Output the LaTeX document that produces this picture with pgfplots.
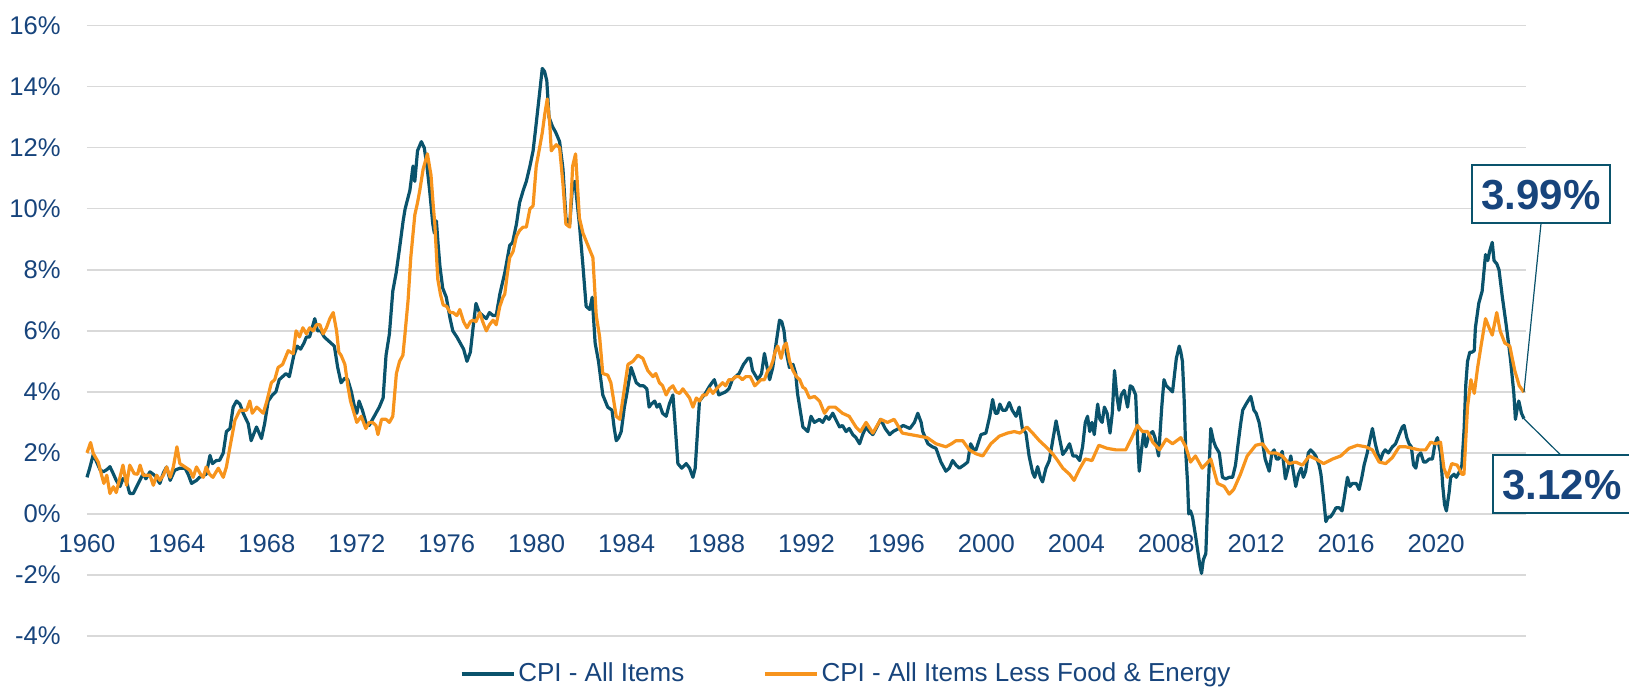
\documentclass[border=0pt]{standalone}
\usepackage{pgfplots}
\pgfplotsset{compat=1.18}
\usepackage{pgfplotstable}
\usepackage{fontspec}
\setmainfont{Liberation Sans}
\definecolor{txtblue}{RGB}{23,68,124}
\definecolor{cpiteal}{RGB}{10,83,108}
\definecolor{coreorange}{RGB}{247,148,29}
\definecolor{gridgray}{RGB}{217,217,217}

\pgfplotstableread{
x y
1960.00 1.2
1960.12 1.5
1960.28 1.95
1960.43 1.7
1960.58 1.45
1960.72 1.38
1960.88 1.45
1961.02 1.55
1961.15 1.35
1961.30 1.1
1961.47 0.9
1961.60 1.16
1961.76 1.05
1961.90 0.67
1962.06 0.67
1962.28 1.0
1962.50 1.32
1962.62 1.15
1962.80 1.38
1963.00 1.27
1963.24 1.0
1963.40 1.35
1963.54 1.54
1963.70 1.1
1963.90 1.43
1964.13 1.5
1964.36 1.5
1964.50 1.3
1964.65 1.0
1964.87 1.1
1965.00 1.2
1965.30 1.3
1965.47 1.92
1965.58 1.65
1965.75 1.75
1965.90 1.76
1966.06 2.0
1966.20 2.7
1966.36 2.8
1966.50 3.5
1966.65 3.7
1966.80 3.6
1966.95 3.3
1967.17 2.96
1967.30 2.4
1967.54 2.85
1967.76 2.47
1967.90 2.96
1968.06 3.7
1968.25 3.9
1968.40 4.0
1968.55 4.4
1968.70 4.5
1968.85 4.6
1969.00 4.5
1969.20 5.2
1969.35 5.5
1969.50 5.4
1969.65 5.6
1969.76 5.8
1969.90 5.8
1970.13 6.4
1970.25 6.0
1970.40 6.0
1970.55 5.8
1970.70 5.7
1970.85 5.6
1971.00 5.5
1971.15 4.8
1971.30 4.3
1971.47 4.45
1971.60 4.4
1971.76 4.0
1971.90 3.5
1972.00 3.3
1972.10 3.7
1972.25 3.4
1972.40 3.0
1972.55 2.9
1972.70 3.1
1972.85 3.3
1973.00 3.5
1973.17 3.8
1973.30 5.2
1973.45 5.9
1973.60 7.3
1973.75 7.9
1973.90 8.7
1974.06 9.6
1974.15 10.0
1974.36 10.6
1974.50 11.4
1974.58 10.9
1974.70 11.9
1974.87 12.2
1975.00 12.0
1975.12 11.4
1975.24 10.6
1975.38 9.5
1975.45 9.2
1975.54 9.6
1975.62 8.8
1975.70 8.1
1975.82 7.4
1975.98 7.1
1976.15 6.4
1976.27 6.0
1976.45 5.8
1976.60 5.6
1976.75 5.4
1976.90 5.0
1977.05 5.3
1977.17 6.1
1977.30 6.9
1977.45 6.6
1977.60 6.5
1977.76 6.4
1977.90 6.6
1978.06 6.5
1978.20 6.5
1978.36 7.2
1978.58 7.9
1978.80 8.8
1978.93 8.9
1979.10 9.5
1979.24 10.2
1979.40 10.6
1979.54 10.9
1979.70 11.4
1979.84 11.9
1979.95 12.6
1980.13 13.8
1980.25 14.6
1980.35 14.5
1980.45 14.2
1980.55 13.0
1980.70 12.7
1980.85 12.5
1981.02 12.2
1981.17 11.3
1981.30 9.7
1981.47 9.5
1981.60 10.8
1981.70 10.9
1981.90 9.5
1982.05 8.2
1982.20 6.8
1982.36 6.7
1982.47 7.1
1982.60 5.6
1982.75 5.0
1982.94 3.9
1983.16 3.5
1983.35 3.4
1983.45 2.8
1983.54 2.4
1983.65 2.5
1983.76 2.7
1983.90 3.5
1984.00 3.9
1984.20 4.8
1984.43 4.3
1984.60 4.2
1984.75 4.2
1984.90 4.1
1985.00 3.5
1985.10 3.6
1985.25 3.7
1985.35 3.5
1985.46 3.6
1985.60 3.3
1985.76 3.2
1985.90 3.6
1986.06 3.9
1986.15 3.0
1986.28 1.65
1986.45 1.5
1986.65 1.65
1986.80 1.5
1986.95 1.2
1987.05 1.5
1987.24 3.7
1987.50 3.95
1987.70 4.2
1987.90 4.4
1988.10 3.9
1988.40 4.0
1988.55 4.1
1988.70 4.4
1989.00 4.6
1989.20 4.9
1989.40 5.1
1989.50 5.1
1989.60 4.7
1989.84 4.4
1990.00 4.6
1990.13 5.26
1990.25 4.8
1990.36 4.4
1990.50 4.8
1990.65 5.6
1990.80 6.35
1990.90 6.3
1991.00 6.0
1991.10 5.3
1991.24 4.8
1991.40 4.9
1991.52 4.6
1991.60 3.95
1991.72 3.4
1991.84 2.85
1992.06 2.7
1992.20 3.2
1992.35 3.0
1992.58 3.1
1992.72 3.0
1992.87 3.2
1993.00 3.1
1993.17 3.3
1993.30 3.1
1993.47 2.85
1993.60 2.9
1993.76 2.7
1993.90 2.8
1994.06 2.6
1994.20 2.5
1994.36 2.3
1994.50 2.6
1994.65 2.85
1994.80 2.7
1994.95 2.6
1995.10 2.8
1995.30 3.1
1995.50 2.8
1995.70 2.6
1995.85 2.7
1996.10 2.8
1996.30 2.9
1996.60 2.8
1996.80 3.0
1996.95 3.3
1997.10 3.0
1997.17 2.7
1997.40 2.3
1997.60 2.2
1997.76 2.15
1997.98 1.7
1998.20 1.4
1998.35 1.5
1998.50 1.75
1998.65 1.6
1998.80 1.5
1999.00 1.6
1999.17 1.7
1999.30 2.3
1999.45 2.1
1999.54 2.1
1999.76 2.6
1999.98 2.65
2000.15 3.2
2000.28 3.75
2000.40 3.3
2000.50 3.3
2000.60 3.6
2000.72 3.4
2000.87 3.4
2001.02 3.65
2001.15 3.4
2001.32 3.2
2001.46 3.5
2001.60 2.8
2001.76 2.65
2001.90 1.9
2002.06 1.35
2002.15 1.2
2002.28 1.55
2002.40 1.2
2002.50 1.05
2002.65 1.5
2002.80 1.75
2002.95 2.4
2003.10 3.05
2003.25 2.5
2003.40 1.95
2003.55 2.1
2003.70 2.3
2003.85 1.9
2004.00 1.9
2004.15 1.75
2004.28 2.2
2004.40 3.0
2004.50 3.2
2004.60 2.7
2004.70 3.0
2004.80 2.6
2004.95 3.6
2005.05 3.1
2005.15 3.0
2005.25 3.5
2005.37 3.3
2005.50 2.65
2005.60 3.3
2005.70 4.7
2005.80 3.9
2005.90 3.4
2006.00 3.9
2006.13 4.05
2006.28 3.5
2006.40 4.2
2006.50 4.15
2006.64 3.9
2006.72 2.5
2006.80 1.4
2006.90 2.1
2007.00 2.7
2007.10 2.2
2007.24 2.6
2007.40 2.7
2007.50 2.5
2007.66 1.9
2007.80 3.5
2007.90 4.4
2008.00 4.2
2008.15 4.1
2008.28 4.0
2008.45 5.1
2008.58 5.5
2008.65 5.3
2008.72 5.0
2008.80 3.7
2008.87 2.0
2008.95 1.0
2009.00 0.0
2009.08 0.1
2009.17 -0.1
2009.30 -0.7
2009.42 -1.3
2009.50 -1.7
2009.57 -1.95
2009.65 -1.5
2009.76 -1.3
2009.85 0.5
2009.98 2.8
2010.10 2.4
2010.20 2.2
2010.36 2.0
2010.50 1.2
2010.65 1.15
2010.80 1.2
2010.95 1.2
2011.08 1.6
2011.18 2.2
2011.30 2.9
2011.40 3.4
2011.55 3.6
2011.76 3.85
2011.90 3.4
2012.00 3.3
2012.13 3.0
2012.25 2.5
2012.40 1.8
2012.58 1.4
2012.70 2.0
2012.80 2.1
2012.90 1.8
2013.00 1.8
2013.16 2.05
2013.30 1.15
2013.42 1.5
2013.54 1.9
2013.65 1.4
2013.76 0.9
2013.88 1.3
2014.00 1.5
2014.10 1.2
2014.20 1.4
2014.32 2.0
2014.42 2.1
2014.55 2.0
2014.65 1.9
2014.80 1.6
2014.88 1.3
2015.00 0.5
2015.10 -0.25
2015.20 -0.1
2015.30 -0.1
2015.40 0.0
2015.55 0.2
2015.70 0.2
2015.82 0.1
2015.90 0.45
2016.06 1.2
2016.17 0.9
2016.28 1.0
2016.45 1.0
2016.58 0.8
2016.70 1.2
2016.80 1.6
2016.94 2.0
2017.08 2.5
2017.17 2.8
2017.30 2.3
2017.40 2.0
2017.52 1.75
2017.64 2.0
2017.74 2.1
2017.88 2.0
2018.06 2.2
2018.20 2.3
2018.36 2.6
2018.50 2.85
2018.58 2.9
2018.70 2.5
2018.80 2.3
2018.90 2.2
2019.00 1.6
2019.10 1.5
2019.20 1.9
2019.32 2.0
2019.45 1.7
2019.54 1.7
2019.70 1.8
2019.84 1.8
2019.95 2.3
2020.06 2.5
2020.20 2.0
2020.30 0.9
2020.38 0.3
2020.46 0.1
2020.58 0.7
2020.65 1.2
2020.80 1.3
2020.90 1.2
2021.05 1.4
2021.15 1.6
2021.25 2.8
2021.32 4.2
2021.40 5.0
2021.50 5.3
2021.60 5.3
2021.70 5.35
2021.75 6.1
2021.90 6.9
2022.05 7.3
2022.20 8.5
2022.30 8.3
2022.38 8.6
2022.50 8.9
2022.58 8.3
2022.70 8.2
2022.80 8.0
2022.95 7.1
2023.10 6.3
2023.24 5.5
2023.32 5.0
2023.46 3.95
2023.53 3.1
2023.62 3.5
2023.68 3.7
2023.80 3.3
2023.91 3.12
}\cpidata

\pgfplotstableread{
x y
1960.00 2.0
1960.16 2.34
1960.28 1.98
1960.50 1.7
1960.65 1.27
1960.75 1.0
1960.88 1.27
1961.02 0.67
1961.17 0.89
1961.30 0.7
1961.40 1.0
1961.60 1.6
1961.76 0.94
1961.90 1.6
1962.10 1.32
1962.25 1.3
1962.36 1.6
1962.50 1.27
1962.80 1.27
1962.95 0.94
1963.10 1.27
1963.24 1.1
1963.40 1.27
1963.54 1.54
1963.70 1.2
1963.84 1.54
1964.00 2.2
1964.13 1.65
1964.36 1.54
1964.58 1.43
1964.72 1.2
1964.87 1.54
1965.05 1.3
1965.17 1.2
1965.30 1.54
1965.45 1.3
1965.60 1.2
1965.84 1.5
1966.06 1.2
1966.20 1.54
1966.36 2.2
1966.58 3.07
1966.80 3.4
1967.10 3.4
1967.24 3.7
1967.35 3.3
1967.55 3.5
1967.70 3.4
1967.84 3.3
1968.00 3.7
1968.20 4.3
1968.35 4.4
1968.50 4.8
1968.70 4.9
1968.95 5.35
1969.17 5.25
1969.30 6.0
1969.45 5.8
1969.60 6.1
1969.76 5.9
1969.90 6.1
1970.06 6.0
1970.20 6.2
1970.36 6.2
1970.50 5.9
1970.65 6.1
1970.80 6.4
1970.95 6.6
1971.10 6.0
1971.20 5.3
1971.30 5.2
1971.47 4.9
1971.60 4.2
1971.72 3.7
1971.84 3.4
1972.00 3.0
1972.20 3.2
1972.40 2.8
1972.55 3.0
1972.70 3.0
1972.85 2.9
1972.94 2.6
1973.10 3.1
1973.30 3.1
1973.45 3.0
1973.60 3.2
1973.76 4.6
1973.90 5.0
1974.05 5.2
1974.13 5.8
1974.28 7.0
1974.40 8.4
1974.58 9.8
1974.70 10.2
1974.80 10.6
1974.95 11.3
1975.14 11.8
1975.30 11.1
1975.40 10.1
1975.47 9.5
1975.60 7.7
1975.72 7.2
1975.84 6.85
1976.00 6.8
1976.15 6.6
1976.28 6.6
1976.45 6.5
1976.58 6.7
1976.75 6.3
1976.90 6.1
1977.05 6.3
1977.17 6.35
1977.30 6.3
1977.47 6.6
1977.60 6.3
1977.76 6.0
1977.90 6.2
1978.06 6.35
1978.20 6.2
1978.36 6.8
1978.50 7.1
1978.58 7.2
1978.70 7.9
1978.80 8.4
1978.95 8.6
1979.10 9.1
1979.25 9.3
1979.40 9.4
1979.54 9.4
1979.70 10.0
1979.84 10.1
1979.98 11.4
1980.13 12.0
1980.25 12.5
1980.36 13.1
1980.47 13.6
1980.58 12.8
1980.65 11.9
1980.75 12.0
1980.87 12.1
1981.02 12.0
1981.17 10.8
1981.30 9.5
1981.47 9.4
1981.60 11.4
1981.73 11.8
1981.90 9.7
1982.06 9.2
1982.28 8.8
1982.50 8.4
1982.65 6.5
1982.80 5.8
1982.94 4.6
1983.16 4.55
1983.30 4.3
1983.45 3.6
1983.54 3.2
1983.70 3.1
1983.84 3.8
1984.06 4.9
1984.28 5.0
1984.50 5.2
1984.72 5.1
1984.94 4.7
1985.17 4.5
1985.30 4.6
1985.46 4.3
1985.60 4.2
1985.76 3.9
1985.90 4.1
1986.06 4.2
1986.20 4.0
1986.36 3.95
1986.50 4.1
1986.65 3.95
1986.80 3.8
1986.95 3.5
1987.10 3.8
1987.24 3.7
1987.40 3.9
1987.54 3.9
1987.70 4.1
1987.84 3.95
1988.00 4.1
1988.13 4.2
1988.27 4.3
1988.40 4.2
1988.55 4.4
1988.70 4.4
1988.85 4.5
1989.00 4.5
1989.15 4.4
1989.30 4.5
1989.50 4.5
1989.70 4.2
1989.84 4.3
1989.98 4.4
1990.13 4.4
1990.28 4.7
1990.40 4.8
1990.50 5.0
1990.60 5.3
1990.72 5.5
1990.87 5.1
1991.00 5.5
1991.10 5.6
1991.25 5.0
1991.40 4.7
1991.55 4.5
1991.70 4.4
1991.84 4.15
1991.95 4.1
1992.13 3.8
1992.36 3.85
1992.58 3.7
1992.80 3.3
1993.00 3.5
1993.28 3.5
1993.60 3.3
1993.90 3.2
1994.20 2.85
1994.40 2.7
1994.65 3.0
1994.95 2.65
1995.30 3.1
1995.60 3.0
1995.90 3.1
1996.26 2.65
1996.63 2.6
1997.00 2.55
1997.37 2.5
1997.76 2.3
1998.20 2.2
1998.45 2.3
1998.65 2.4
1998.95 2.4
1999.24 2.1
1999.54 1.97
1999.84 1.9
2000.20 2.3
2000.58 2.55
2000.94 2.65
2001.24 2.7
2001.50 2.65
2001.80 2.85
2002.06 2.65
2002.36 2.4
2002.65 2.2
2002.95 1.97
2003.17 1.75
2003.40 1.5
2003.70 1.3
2003.90 1.1
2004.13 1.45
2004.40 1.8
2004.70 1.75
2005.00 2.25
2005.37 2.15
2005.76 2.1
2006.20 2.1
2006.50 2.55
2006.72 2.9
2006.94 2.7
2007.17 2.7
2007.40 2.35
2007.70 2.1
2008.00 2.45
2008.28 2.3
2008.65 2.5
2008.87 2.2
2009.08 1.7
2009.30 1.9
2009.60 1.5
2009.98 1.8
2010.28 1.0
2010.58 0.9
2010.80 0.65
2011.00 0.8
2011.30 1.3
2011.60 1.9
2011.98 2.25
2012.28 2.3
2012.58 2.0
2012.87 2.0
2013.16 1.9
2013.46 1.65
2013.76 1.7
2014.06 1.6
2014.36 1.9
2014.65 1.8
2015.00 1.65
2015.40 1.8
2015.76 1.9
2016.13 2.15
2016.50 2.25
2016.87 2.2
2017.17 2.1
2017.47 1.7
2017.76 1.65
2018.06 1.85
2018.36 2.2
2018.65 2.2
2018.95 2.15
2019.24 2.1
2019.54 2.1
2019.76 2.35
2019.98 2.3
2020.20 2.35
2020.35 1.5
2020.50 1.2
2020.70 1.65
2020.94 1.6
2021.15 1.3
2021.24 1.3
2021.40 3.5
2021.55 4.4
2021.70 3.95
2021.85 4.8
2022.00 5.5
2022.20 6.4
2022.36 6.1
2022.50 5.86
2022.70 6.6
2022.85 6.0
2023.06 5.6
2023.28 5.5
2023.50 4.7
2023.70 4.2
2023.91 3.99
}\coredata

\begin{document}
\begin{tikzpicture}
\begin{axis}[
  scale only axis,
  width=719.5pt, height=305.15pt,
  xmin=1960, xmax=2024, ymin=-4, ymax=16,
  clip=false,
  axis x line=middle, axis y line=left,
  hide obscured x ticks=false,
  axis line style={-},
  x axis line style={draw=gridgray, line width=0.7pt},
  y axis line style={draw=none},
  tick style={draw=none},
  ymajorgrids, major grid style={draw=gridgray, line width=0.7pt},
  xtick={1960,1964,1968,1972,1976,1980,1984,1988,1992,1996,2000,2004,2008,2012,2016,2020},
  xticklabels={1960,1964,1968,1972,1976,1980,1984,1988,1992,1996,2000,2004,2008,2012,2016,2020},
  ytick={-4,-2,0,2,4,6,8,10,12,14,16},
  yticklabels={-4\%,-2\%,0\%,2\%,4\%,6\%,8\%,10\%,12\%,14\%,16\%},
  ticklabel style={font=\fontsize{12.8pt}{15pt}\selectfont, text=txtblue},
  xticklabel style={yshift=-4.5pt},
  yticklabel style={xshift=-7.5pt},
  legend columns=2,
  legend style={at={(0.528,-0.0623)}, anchor=center, draw=none, fill=none,
    font=\fontsize{13pt}{15pt}\selectfont, text=txtblue,
    /tikz/every even column/.append style={column sep=38pt},
    nodes={inner xsep=1.5pt}},
  legend image code/.code={\draw[#1,line width=1.6pt] (0pt,0pt) -- (26pt,0pt);},
]
\addplot[cpiteal, line width=1.6pt, line join=round] table[x=x,y=y] {\cpidata};
\addlegendentry{CPI - All Items}
\addplot[coreorange, line width=1.6pt, line join=round] table[x=x,y=y] {\coredata};
\addlegendentry{CPI - All Items Less Food \& Energy}

\draw[cpiteal, line width=0.6pt] (axis cs:2024.67,9.53) -- (axis cs:2023.91,3.99);
\draw[cpiteal, line width=0.6pt] (axis cs:2023.91,3.12) -- (axis cs:2025.56,1.92);
\node[draw=cpiteal, line width=0.85pt, fill=white, text=txtblue,
  font=\bfseries\fontsize{21pt}{25pt}\selectfont,
  inner xsep=4.75pt, inner ysep=6.9pt, text height=15.2pt, text depth=0pt]
  at (axis cs:2024.67,10.48) {3.99\%};
\node[draw=cpiteal, line width=0.85pt, fill=white, text=txtblue,
  font=\bfseries\fontsize{21pt}{25pt}\selectfont,
  inner xsep=4.75pt, inner ysep=6.9pt, text height=15.2pt, text depth=0pt]
  at (axis cs:2025.6,0.97) {3.12\%};
\coordinate (sw) at (rel axis cs:0,0);
\end{axis}
\pgfresetboundingbox
\path[use as bounding box] ([shift={(-43.5pt,-25.5pt)}]sw) rectangle ++(814.5pt,343.5pt);
\end{tikzpicture}
\end{document}
